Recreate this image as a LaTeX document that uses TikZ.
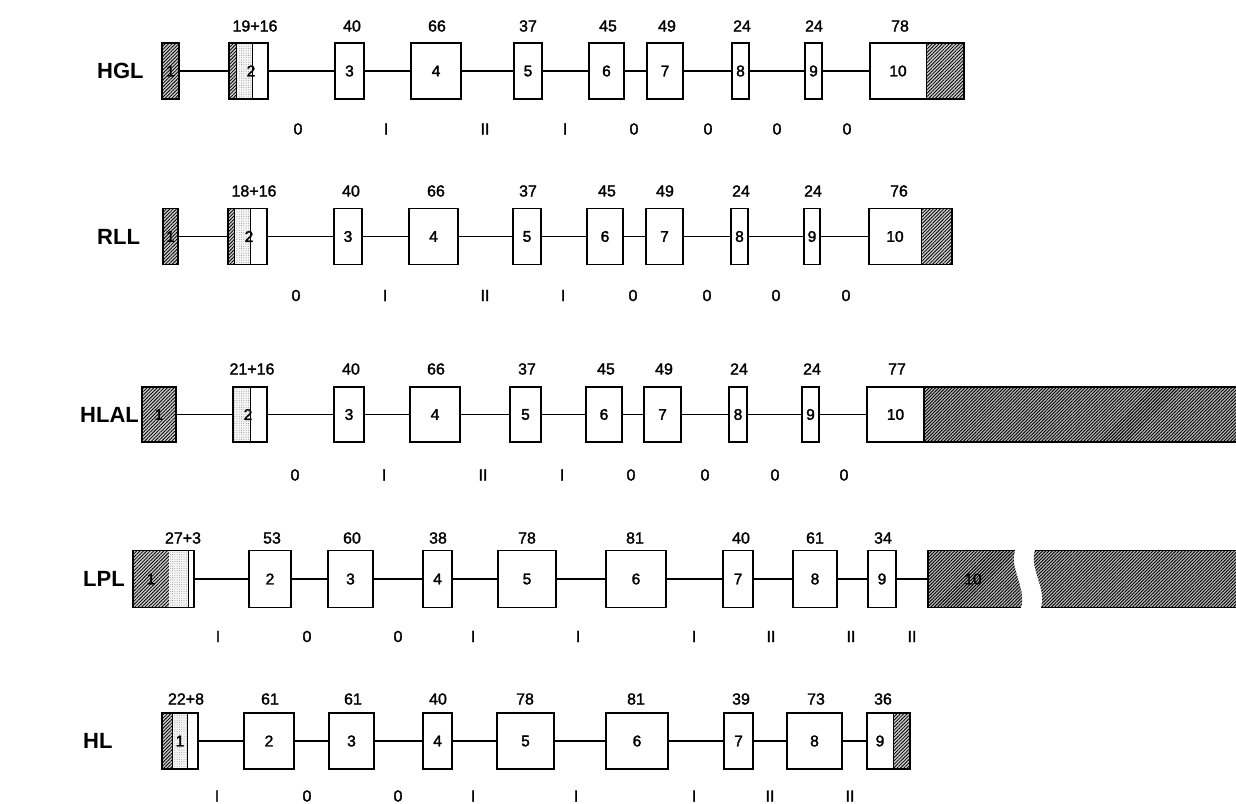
\documentclass[tikz,border=0pt]{standalone}
\usepackage{fontspec}
\setmainfont{Liberation Sans}
\newfontfamily\numfont[FakeBold=1.6]{Liberation Sans}
\newfontfamily\boxfont[FakeBold=2]{Liberation Sans}
\usetikzlibrary{patterns.meta}
\tikzset{
  x=1pt,y=-1pt,
  gbox/.style={draw, line width=1.2pt, inner sep=0pt, rectangle, font=\boxfont\fontsize{15.5}{16}\selectfont},
  conn/.style={line width=1.1pt},
  gline/.style={line width=1pt},
  num/.style={font=\numfont\fontsize{16}{17}\selectfont, inner sep=0pt},
  inb/.style={font=\boxfont\fontsize{15.5}{16}\selectfont, inner sep=0pt},
  rowlab/.style={font=\bfseries\fontsize{22}{23}\selectfont, anchor=west, inner sep=0pt},
  hatchf/.style={fill=gray!40, postaction={pattern={Lines[angle=45,distance=2.4pt,line width=0.8pt]}, pattern color=black}},
  darkf/.style={fill=gray!55, postaction={pattern={Lines[angle=45,distance=2.3pt,line width=0.9pt]}, pattern color=black}},
  dotf/.style={fill=gray!8, postaction={pattern={Dots[distance=2.3pt,radius=0.45pt]}, pattern color=gray!90}},
}
\newcommand{\exonbox}[6]{\node[gbox, minimum width={#3-#2}, minimum height={#5}] (#1) at ({(#2+#3)/2},#4) {#6};}
\begin{document}
\begin{tikzpicture}
\useasboundingbox (0,0) rectangle (1236,803);
\fill[white] (0,0) rectangle (1236,803);

% ================= HGL =================
\node[rowlab] (lab-hgl) at (97,71) {HGL};
\fill[hatchf] (162,43) rectangle (179,99);
\exonbox{hgl1}{162}{179}{71}{56}{1}
\fill[hatchf] (229,43) rectangle (236,99);
\fill[dotf] (236,43) rectangle (252,99);
\draw[gline] (236,43) -- (236,99);
\draw[gline] (252,43) -- (252,99);
\exonbox{hgl2}{229}{268}{71}{56}{}
\node[inb] (hgl2t) at (251,71) {2};
\exonbox{hgl3}{335}{364}{71}{56}{3}
\exonbox{hgl4}{411}{461}{71}{56}{4}
\exonbox{hgl5}{514}{542}{71}{56}{5}
\exonbox{hgl6}{589}{624}{71}{56}{6}
\exonbox{hgl7}{647}{683}{71}{56}{7}
\exonbox{hgl8}{732}{749}{71}{56}{8}
\exonbox{hgl9}{805}{822}{71}{56}{9}
\fill[hatchf] (926,43) rectangle (964,99);
\draw[gline] (926,43) -- (926,99);
\exonbox{hgl10}{870}{964}{71}{56}{}
\node[inb] (hgl10t) at (898,71) {10};
\foreach \a/\b in {1/2,2/3,3/4,4/5,5/6,6/7,7/8,8/9,9/10}
  \draw[conn] (hgl\a.east) -- (hgl\b.west);
\foreach \t/\x [count=\k] in {19+16/255,40/352,66/437,37/528,45/608,49/667,24/742,24/814,78/900}
  \node[num] (hgltop\k) at (\x,26) {\t};
\foreach \t/\x [count=\k] in {0/298,I/386,II/485,I/565,0/634,0/708,0/777,0/847}
  \node[num] (hglbot\k) at (\x,129) {\t};

% ================= RLL =================
\node[rowlab] (lab-rll) at (97,236.5) {RLL};
\fill[hatchf] (163,208.5) rectangle (178,264.5);
\exonbox{rll1}{163}{178}{236.5}{56}{1}
\fill[hatchf] (228,208.5) rectangle (234,264.5);
\fill[dotf] (234,208.5) rectangle (250,264.5);
\draw[gline] (234,208.5) -- (234,264.5);
\draw[gline] (250,208.5) -- (250,264.5);
\exonbox{rll2}{228}{267}{236.5}{56}{}
\node[inb] (rll2t) at (249,236.5) {2};
\exonbox{rll3}{334}{362}{236.5}{56}{3}
\exonbox{rll4}{409}{458}{236.5}{56}{4}
\exonbox{rll5}{513}{541}{236.5}{56}{5}
\exonbox{rll6}{587}{623}{236.5}{56}{6}
\exonbox{rll7}{646}{683}{236.5}{56}{7}
\exonbox{rll8}{731}{748}{236.5}{56}{8}
\exonbox{rll9}{804}{820}{236.5}{56}{9}
\fill[hatchf] (921,208.5) rectangle (952,264.5);
\draw[gline] (921,208.5) -- (921,264.5);
\exonbox{rll10}{869}{952}{236.5}{56}{}
\node[inb] (rll10t) at (895,236.5) {10};
\foreach \a/\b in {1/2,2/3,3/4,4/5,5/6,6/7,7/8,8/9,9/10}
  \draw[conn] (rll\a.east) -- (rll\b.west);
\foreach \t/\x [count=\k] in {18+16/254,40/351,66/436,37/528,45/607,49/665,24/741,24/813,76/899}
  \node[num] (rlltop\k) at (\x,191) {\t};
\foreach \t/\x [count=\k] in {0/296,I/385,II/485,I/563,0/633,0/707,0/776,0/846}
  \node[num] (rllbot\k) at (\x,295.5) {\t};

% ================= HLAL =================
\node[rowlab] (lab-hlal) at (80,414.5) {HLAL};
\fill[hatchf] (142,387) rectangle (176,442);
\exonbox{hlal1}{142}{176}{414.5}{55}{1}
\fill[dotf] (233,387) rectangle (250,442);
\draw[gline] (250,387) -- (250,442);
\exonbox{hlal2}{233}{267}{414.5}{55}{}
\node[inb] (hlal2t) at (248,414.5) {2};
\exonbox{hlal3}{334}{364}{414.5}{55}{3}
\exonbox{hlal4}{410}{460}{414.5}{55}{4}
\exonbox{hlal5}{510}{541}{414.5}{55}{5}
\exonbox{hlal6}{586}{622}{414.5}{55}{6}
\exonbox{hlal7}{644}{681}{414.5}{55}{7}
\exonbox{hlal8}{729}{747}{414.5}{55}{8}
\exonbox{hlal9}{802}{819}{414.5}{55}{9}
\fill[darkf] (924,387) rectangle (1236,442);
\draw[line width=1.4pt] (924,387) -- (1236,387);
\draw[line width=1.4pt] (924,442) -- (1236,442);
\exonbox{hlal10}{867}{924}{414.5}{55}{10}
\foreach \a/\b in {1/2,2/3,3/4,4/5,5/6,6/7,7/8,8/9,9/10}
  \draw[conn] (hlal\a.east) -- (hlal\b.west);
\foreach \t/\x [count=\k] in {21+16/252,40/351,66/436,37/527,45/606,49/664,24/739,24/812,77/897}
  \node[num] (hlaltop\k) at (\x,369) {\t};
\foreach \t/\x [count=\k] in {0/295,I/384,II/483,I/562,0/631,0/705,0/775,0/844}
  \node[num] (hlalbot\k) at (\x,475) {\t};

% ================= LPL =================
\node[rowlab] (lab-lpl) at (83,579) {LPL};
\fill[hatchf] (133,550.5) rectangle (169,607.5);
\fill[dotf] (169,550.5) rectangle (188,607.5);
\draw[gline] (188,550.5) -- (188,607.5);
\exonbox{lpl1}{133}{194}{579}{57}{}
\node[inb] (lpl1t) at (151,579) {1};
\exonbox{lpl2}{249}{291}{579}{57}{2}
\exonbox{lpl3}{328}{373}{579}{57}{3}
\exonbox{lpl4}{423}{452}{579}{57}{4}
\exonbox{lpl5}{498}{556}{579}{57}{5}
\exonbox{lpl6}{606}{666}{579}{57}{6}
\exonbox{lpl7}{723}{753}{579}{57}{7}
\exonbox{lpl8}{793}{837}{579}{57}{8}
\exonbox{lpl9}{868}{896}{579}{57}{9}
\path[darkf] (928,550.5) -- (1015,550.5) .. controls (1009,568) and (1027,589) .. (1021,607.5) -- (928,607.5) -- cycle;
\draw[line width=1.4pt] (1015,550.5) -- (928,550.5) -- (928,607.5) -- (1021,607.5);
\node[inb, minimum width=90, minimum height=57] (lpl10) at (973,579) {10};
\path[darkf] (1035,550.5) .. controls (1029,568) and (1047,589) .. (1041,607.5) -- (1236,607.5) -- (1236,550.5) -- cycle;
\draw[line width=1.4pt] (1035,550.5) -- (1236,550.5);
\draw[line width=1.4pt] (1041,607.5) -- (1236,607.5);
\foreach \a/\b in {1/2,2/3,3/4,4/5,5/6,6/7,7/8,8/9,9/10}
  \draw[conn] (lpl\a.east) -- (lpl\b.west);
\foreach \t/\x [count=\k] in {27+3/183,53/272,60/352,38/438,78/527,81/635,40/741,61/815,34/883}
  \node[num] (lpltop\k) at (\x,538) {\t};
\foreach \t/\x [count=\k] in {I/218,0/307,0/398,I/473,I/578,I/694,II/771,II/851,II/912}
  \node[num] (lplbot\k) at (\x,636.5) {\t};

% ================= HL =================
\node[rowlab] (lab-hl) at (83,741) {HL};
\fill[hatchf] (162,713) rectangle (172,769);
\fill[dotf] (172,713) rectangle (187,769);
\draw[gline] (172,713) -- (172,769);
\draw[gline] (187,713) -- (187,769);
\exonbox{hl1}{162}{198}{741}{56}{}
\node[inb] (hl1t) at (180,741) {1};
\exonbox{hl2}{244}{294}{741}{56}{2}
\exonbox{hl3}{329}{374}{741}{56}{3}
\exonbox{hl4}{423}{452}{741}{56}{4}
\exonbox{hl5}{497}{554}{741}{56}{5}
\exonbox{hl6}{606}{668}{741}{56}{6}
\exonbox{hl7}{724}{753}{741}{56}{7}
\exonbox{hl8}{787}{842}{741}{56}{8}
\fill[hatchf] (893,713) rectangle (910,769);
\draw[gline] (893,713) -- (893,769);
\exonbox{hl9}{867}{910}{741}{56}{}
\node[inb] (hl9t) at (880,741) {9};
\foreach \a/\b in {1/2,2/3,3/4,4/5,5/6,6/7,7/8,8/9}
  \draw[conn] (hl\a.east) -- (hl\b.west);
\foreach \t/\x [count=\k] in {22+8/186,61/270,61/353,40/438,78/525,81/636,39/741,73/816,36/883}
  \node[num] (hltop\k) at (\x,699) {\t};
\foreach \t/\x [count=\k] in {I/217,0/307,0/398,I/473,I/576,I/694,II/770,II/850}
  \node[num] (hlbot\k) at (\x,796) {\t};
\end{tikzpicture}
\end{document}
